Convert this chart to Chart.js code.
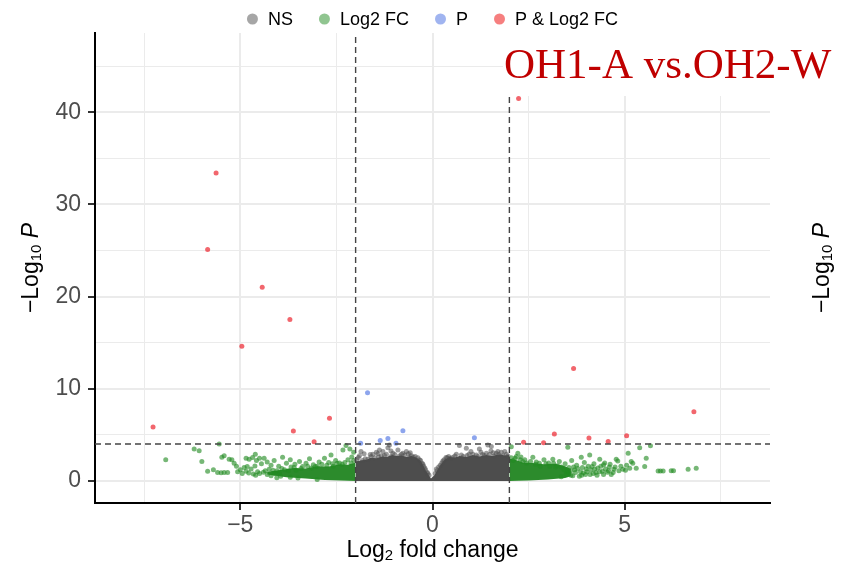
<!DOCTYPE html>
<html>
<head>
<meta charset="utf-8">
<script src="https://cdn.jsdelivr.net/npm/chart.js@4.4.0/dist/chart.umd.min.js"></script>
<style>
  html, body { margin: 0; padding: 0; background: #fff; }
</style>
</head>
<body>
<canvas id="volcano" width="843" height="573"></canvas>
<script>
// axis ranges + ticks
const xMin = -8.78, xMax = 8.78;
const yMin = -2.4, yMax = 48.6;
const xTicks = [-7.5, -5, -2.5, 0, 2.5, 5, 7.5];
const xTickLabels = { '-5': '−5', '0': '0', '5': '5' };
const yTicks = [0, 5, 10, 15, 20, 25, 30, 35, 40, 45];
const yTickLabels = [0, 10, 20, 30, 40];

// cut-offs (log2 FC and -log10 P)
const fcCutoff = 2;
const pCutoff = 4;

const legendLabels = ['NS', 'Log2 FC', 'P', 'P & Log2 FC'];
const chartTitle = 'OH1-A vs.OH2-W';

// significant on both
const bothPoints = [
    [2.24, 41.5], [-5.63, 33.4], [-5.85, 25.1], [-4.43, 21.0], [-3.71, 17.5], [-4.96, 14.6],
    [3.67, 12.2], [-2.68, 6.8], [6.8, 7.5], [-7.27, 5.85], [-3.62, 5.4], [-3.08, 4.25],
    [3.17, 5.1], [2.37, 4.2], [2.89, 4.15], [4.07, 4.66], [4.57, 4.26], [5.05, 4.9],
];

// significant p only
const pPoints = [
    [-1.87, 4.08], [-1.36, 4.37], [-1.16, 4.6], [-0.95, 4.08], [-0.77, 5.45], [-1.69, 9.57], [1.09, 4.68],
];

// log2 FC only (scattered ones)
const fcPoints = [
    [-6.94, 2.3], [-6.2, 3.47], [-6.07, 3.28], [-5.55, 4.0], [-6.0, 2.1], [-5.85, 1.05], [-5.7, 1.2],
    [-5.59, 0.9], [-5.5, 0.88], [-5.42, 0.92], [-5.33, 0.9], [-5.48, 2.57], [-5.42, 2.74], [-5.29, 2.35],
    [-5.22, 2.3], [-5.16, 1.9], [-5.1, 1.6], [-5.0, 1.2], [-5.07, 0.98], [-4.85, 2.46], [-4.77, 2.35],
    [-4.68, 2.53], [-4.61, 2.9], [-4.9, 1.45], [-4.82, 1.55], [-4.58, 2.2], [-4.5, 2.46], [-4.38, 2.46],
    [-4.72, 1.3], [-4.62, 1.62], [-4.45, 1.85], [-4.3, 2.05], [-4.2, 1.7], [-4.12, 2.2], [-3.9, 2.57],
    [-3.8, 1.9], [-3.7, 2.3], [-3.58, 1.8], [-3.46, 2.1], [-3.29, 1.9], [-3.2, 2.4], [-3.1, 1.75],
    [-2.95, 2.05], [-2.81, 2.46], [-2.64, 2.8], [-2.52, 2.2], [-2.33, 3.36], [-2.25, 3.85], [-2.15, 3.45],
    [-2.1, 2.6], [-2.05, 3.1], [-2.42, 1.95], [-2.7, 2.0], [-3.0, 1.6], [-3.38, 1.55], [-3.92, 1.35],
    [-4.05, 1.1], [-4.25, 1.25], [-4.4, 0.95], [-4.55, 1.0], [-4.66, 0.75], [-4.78, 0.85], [-4.95, 0.8],
    [-3.6, 1.45], [-4.0, 1.6], [-2.2, 2.3], [-2.6, 1.85], [-3.5, 0.3], [-4.2, 0.55], [-3.0, 0.15],
    [-2.05, 2.2], [-2.12, 1.95], [-2.28, 2.0], [-2.35, 1.8], [-2.48, 1.9], [-2.58, 1.6], [-2.75, 1.7],
    [-2.88, 1.8], [-3.05, 1.55], [-3.15, 1.4], [-3.25, 1.6], [-3.42, 1.35], [-3.55, 1.15], [-3.68, 1.5],
    [-3.75, 1.1], [-3.85, 1.2], [-3.98, 0.9], [-4.1, 0.8], [-4.15, 1.15], [-4.3, 0.7], [-4.35, 1.1],
    [-4.5, 0.8], [-4.6, 0.6], [-4.85, 1.05], [-3.7, 0.4], [-3.95, 0.5], [-4.05, 0.35],
    [2.05, 3.7], [2.22, 3.0], [2.61, 2.57], [3.52, 3.65], [3.13, 2.35], [3.87, 2.57], [4.09, 2.82],
    [4.35, 2.35], [4.78, 2.35], [4.82, 2.17], [5.09, 3.0], [5.17, 2.1], [5.21, 1.9], [5.39, 3.6],
    [5.67, 3.8], [5.56, 2.46], [5.52, 1.55], [5.3, 1.37], [5.13, 1.37], [5.87, 1.08], [5.93, 1.08],
    [6.0, 1.08], [6.21, 1.1], [6.27, 1.1], [6.65, 1.26], [6.86, 1.37], [2.4, 2.3], [2.7, 2.05],
    [2.9, 2.3], [3.02, 1.95], [3.3, 2.1], [3.45, 1.85], [3.62, 2.2], [3.75, 1.7], [3.95, 2.0],
    [4.2, 1.85], [4.48, 1.95], [4.6, 1.5], [4.72, 1.25], [4.9, 1.6], [5.02, 1.15], [4.42, 1.05],
    [4.25, 0.9], [3.92, 0.85], [3.6, 0.6], [3.7, 1.2], [3.82, 0.5], [4.0, 1.3], [4.1, 0.7],
    [4.3, 1.4], [4.55, 0.95], [4.65, 0.7], [3.5, 1.0], [3.55, 1.45], [4.15, 1.55], [4.85, 1.1],
    [2.3, 2.6], [2.15, 2.45], [3.2, 1.5], [2.8, 1.6],
    [2.05, 2.5], [2.1, 2.2], [2.18, 2.65], [2.28, 2.3], [2.35, 2.1], [2.45, 1.95], [2.55, 2.1],
    [2.68, 1.8], [2.78, 1.9], [2.95, 1.85], [3.05, 1.6], [3.15, 1.9], [3.25, 1.65], [3.35, 1.5],
    [3.42, 1.2], [3.48, 0.7], [3.55, 0.9], [3.65, 0.55], [3.67, 1.5], [3.72, 0.9], [3.78, 1.35],
    [3.85, 1.0], [3.88, 0.6], [3.98, 0.7], [4.02, 1.0], [4.05, 1.6], [4.12, 1.2], [4.18, 0.8],
    [4.22, 1.3], [4.28, 0.6], [4.35, 1.0], [4.38, 1.6], [4.45, 0.7], [4.5, 1.3], [4.58, 1.1],
    [4.62, 1.8], [4.7, 0.9], [4.75, 1.5], [4.95, 1.25], [5.05, 1.7], [3.35, 0.45], [3.6, 1.1],
    [3.9, 1.45], [4.45, 1.75],
];

// not significant (scattered ones around the top of the dense cloud)
const nsPoints = [
    [-1.9, 2.74], [-1.6, 2.63], [-1.46, 3.1], [-1.38, 3.36], [-1.29, 3.18], [-1.16, 3.6], [-1.03, 3.0],
    [-0.9, 3.36], [-0.81, 2.9], [-0.68, 3.18], [-0.55, 2.74], [-0.34, 2.28], [-1.12, 3.9], [-1.86, 3.18],
    [-1.75, 2.4], [-1.55, 2.9], [-1.25, 2.75], [-0.98, 2.85], [-0.72, 2.8], [-0.45, 2.65], [-0.6, 2.55],
    [-1.4, 2.6], [-1.82, 2.2], [-0.25, 1.8], [-0.2, 1.4], [-0.12, 0.8],
    [0.46, 2.46], [0.7, 3.83], [0.88, 3.54], [1.0, 3.18], [1.22, 3.47], [1.44, 3.9], [1.52, 3.25],
    [1.7, 3.18], [1.83, 2.74], [0.75, 2.82], [1.14, 2.82], [1.4, 3.0], [1.66, 3.0], [1.79, 3.1],
    [1.53, 3.72], [0.3, 2.3], [0.2, 1.7], [0.12, 1.1], [0.58, 2.7], [0.95, 2.9], [1.3, 2.85],
    [1.6, 2.7], [1.92, 2.9], [0.38, 2.5],
    [-1.97, 2.3], [-1.93, 2.55], [-1.68, 2.35], [-1.62, 2.85], [-1.5, 2.5], [-1.33, 2.7], [-1.2, 2.9],
    [-1.08, 2.65], [-0.86, 2.7], [-0.77, 3.0], [-0.63, 2.95], [-0.5, 2.6], [-0.38, 2.5], [-0.31, 2.2],
    [-0.27, 1.9], [-0.23, 1.6], [-0.18, 1.2], [-0.14, 0.95], [-0.09, 0.6], [0.07, 0.8], [0.1, 1.3],
    [0.16, 1.5], [0.24, 1.95], [0.27, 2.15], [0.35, 2.55], [0.42, 2.65], [0.52, 2.55], [0.62, 2.9],
    [0.8, 2.65], [0.9, 2.75], [1.05, 2.9], [1.18, 2.65], [1.26, 3.1], [1.35, 2.75], [1.48, 2.85],
    [1.58, 3.05], [1.72, 2.85], [1.88, 3.2], [1.96, 2.7], [-1.78, 2.95], [-1.42, 2.95], [-1.08, 3.25],
    [-0.58, 3.05],
];

// outlines of the dense (overplotted) clouds
const nsCloud = [
    [-2, 0], [-2, 2.1], [-1.85, 2.25], [-1.72, 2.3], [-1.6, 2.5], [-1.46, 2.45], [-1.3, 2.65],
    [-1.2, 2.6], [-1.05, 2.8], [-0.94, 2.7], [-0.8, 2.75], [-0.68, 2.6], [-0.55, 2.7], [-0.42, 2.55],
    [-0.3, 2.15], [-0.17, 1.1], [-0.04, 0.25], [0.05, 0.6], [0.18, 1.6], [0.31, 2.3], [0.44, 2.6],
    [0.58, 2.55], [0.7, 2.7], [0.88, 2.6], [1.05, 2.8], [1.22, 2.65], [1.4, 2.8], [1.55, 2.7],
    [1.74, 2.9], [1.88, 2.75], [1.99, 2.8], [1.99, 0],
];
const fcLeftTop = [
    [-4.3, 0.7], [-4.3, 1.0], [-3.9, 1.2], [-3.6, 1.4], [-3.3, 1.35], [-3.0, 1.6], [-2.7, 1.55],
    [-2.4, 1.8], [-2.2, 1.75], [-2.0, 2.0],
];
const fcLeftBottom = [[-4.3, 0.7], [-3.8, 0.4], [-3.3, 0.25], [-2.8, 0.1], [-2.0, 0.0]];
const fcRightTop = [
    [2.0, 2.4], [2.15, 2.3], [2.35, 2.0], [2.6, 1.95], [2.9, 1.8], [3.2, 1.85], [3.45, 1.6], [3.6, 1.3],
];
const fcRightBottom = [[2.0, 0.0], [2.5, 0.05], [3.0, 0.15], [3.45, 0.3], [3.6, 0.5]];

const colNS = 'rgba(77,77,77,0.55)';
const colFC = 'rgba(34,139,34,0.62)';
const colP = 'rgba(65,105,225,0.6)';
const colBoth = 'rgba(235,20,30,0.65)';
const legendCols = ['rgba(77,77,77,0.5)', 'rgba(34,139,34,0.5)', 'rgba(65,105,225,0.5)', 'rgba(238,0,0,0.5)'];

const FONT = '"Liberation Sans", Arial, sans-serif';

const xy = (arr) => arr.map(([x, y]) => ({ x, y }));

function points(label, arr, color, order) {
    return {
        label, data: xy(arr), backgroundColor: color, borderWidth: 0,
        pointRadius: 2.5, showLine: false, order,
    };
}

function cloud(arr, color, fill, order) {
    return {
        label: '', data: xy(arr), showLine: true, pointRadius: 0, borderWidth: 0,
        borderColor: color, backgroundColor: color, fill, tension: 0, order,
    };
}

function cutLine(arr) {
    return {
        label: '', data: xy(arr), showLine: true, pointRadius: 0, borderColor: '#444',
        borderWidth: 1.4, borderDash: [6, 4], fill: false, order: 0,
    };
}

function drawRich(ctx, parts, cx, cy, rot) {
    ctx.save();
    ctx.translate(cx, cy);
    ctx.rotate(rot);
    let total = 0;
    parts.forEach((p) => { ctx.font = p.font; p.w = ctx.measureText(p.t).width; total += p.w; });
    let x = -total / 2;
    ctx.textBaseline = 'middle';
    ctx.fillStyle = '#000';
    parts.forEach((p) => { ctx.font = p.font; ctx.fillText(p.t, x, p.dy || 0); x += p.w; });
    ctx.restore();
}

const decor = {
    id: 'decor',
    afterDatasetsDraw(chart) {
        const ctx = chart.ctx;
        // white box behind the title, as in the original
        ctx.save();
        ctx.fillStyle = '#fff';
        ctx.fillRect(503, 33, 340, 63);
        ctx.fillStyle = '#c00000';
        ctx.font = '43px "Liberation Serif", "Times New Roman", serif';
        ctx.textBaseline = 'alphabetic';
        ctx.fillText(chartTitle, 504, 78);
        ctx.restore();
    },
    afterDraw(chart) {
        const ctx = chart.ctx;
        const area = chart.chartArea;
        const big = '23px ' + FONT, small = '15px ' + FONT;
        const yParts = () => [
            { t: '−Log', font: big }, { t: '10', font: small, dy: 5 }, { t: ' ', font: big },
            { t: 'P', font: 'italic ' + big },
        ];
        const midY = (area.top + area.bottom) / 2;
        drawRich(ctx, yParts(), 32, midY, -Math.PI / 2);
        drawRich(ctx, yParts(), 823, midY, -Math.PI / 2);
        drawRich(ctx, [{ t: 'Log', font: big }, { t: '2', font: small, dy: 5 }, { t: ' fold change', font: big }],
            (area.left + area.right) / 2, 551, 0);

        // legend
        ctx.save();
        ctx.font = '18px ' + FONT;
        const r = 5.5, gap = 10, spacing = 26;
        const widths = legendLabels.map((l) => 2 * r + gap + ctx.measureText(l).width);
        const total = widths.reduce((a, b) => a + b, 0) + spacing * (legendLabels.length - 1);
        let x = (area.left + area.right) / 2 - total / 2;
        const y = 19;
        ctx.textBaseline = 'middle';
        legendLabels.forEach((l, i) => {
            ctx.fillStyle = legendCols[i];
            ctx.beginPath();
            ctx.arc(x + r, y, r, 0, Math.PI * 2);
            ctx.fill();
            ctx.fillStyle = '#000';
            ctx.fillText(l, x + 2 * r + gap, y + 1);
            x += widths[i] + spacing;
        });
        ctx.restore();
    },
};

const isMajorX = (v) => xTickLabels[String(v)] !== undefined;
const isMajorY = (v) => yTickLabels.includes(v);

new Chart(document.getElementById('volcano'), {
    type: 'scatter',
    data: {
        datasets: [
            cutLine([[-fcCutoff, yMin], [-fcCutoff, yMax]]),
            cutLine([[fcCutoff, yMin], [fcCutoff, yMax]]),
            cutLine([[xMin, pCutoff], [xMax, pCutoff]]),
            points('P & Log2 FC', bothPoints, colBoth, 1),
            points('P', pPoints, colP, 1),
            points('NS', nsPoints, colNS, 2),
            points('Log2 FC', fcPoints, colFC, 2),
            cloud(nsCloud, 'rgb(77,77,77)', 'origin', 3),
            cloud(fcLeftTop, 'rgb(44,139,44)', '+1', 3),
            cloud(fcLeftBottom, 'rgba(0,0,0,0)', false, 3),
            cloud(fcRightTop, 'rgb(44,139,44)', '+1', 3),
            cloud(fcRightBottom, 'rgba(0,0,0,0)', false, 3),
        ],
    },
    options: {
        responsive: false,
        animation: false,
        events: [],
        layout: { padding: { left: 0, top: 33, right: 73, bottom: 0 } },
        plugins: { legend: { display: false }, tooltip: { enabled: false } },
        scales: {
            x: {
                type: 'linear', min: xMin, max: xMax,
                afterBuildTicks: (s) => { s.ticks = xTicks.map((v) => ({ value: v })); },
                afterFit: (s) => { s.height = 70; },
                ticks: {
                    autoSkip: false, maxRotation: 0, padding: 2, color: '#4d4d4d',
                    font: { size: 23, family: FONT },
                    callback: (v) => xTickLabels[String(v)] ?? '',
                },
                grid: {
                    color: '#ebebeb',
                    lineWidth: (c) => (isMajorX(c.tick.value) ? 2 : 1),
                    tickColor: (c) => (isMajorX(c.tick.value) ? '#333' : 'rgba(0,0,0,0)'),
                    tickLength: 7, tickWidth: 2,
                },
                border: { color: '#000', width: 2 },
            },
            y: {
                type: 'linear', min: yMin, max: yMax,
                afterBuildTicks: (s) => { s.ticks = yTicks.map((v) => ({ value: v })); },
                afterFit: (s) => { s.width = 95; },
                ticks: {
                    autoSkip: false, padding: 7, color: '#4d4d4d',
                    font: { size: 23, family: FONT },
                    callback: (v) => (isMajorY(v) ? String(v) : ''),
                },
                grid: {
                    color: '#ebebeb',
                    lineWidth: (c) => (isMajorY(c.tick.value) ? 2 : 1),
                    tickColor: (c) => (isMajorY(c.tick.value) ? '#333' : 'rgba(0,0,0,0)'),
                    tickLength: 7, tickWidth: 2,
                },
                border: { color: '#000', width: 2 },
            },
        },
    },
    plugins: [decor],
});
</script>
</body>
</html>
